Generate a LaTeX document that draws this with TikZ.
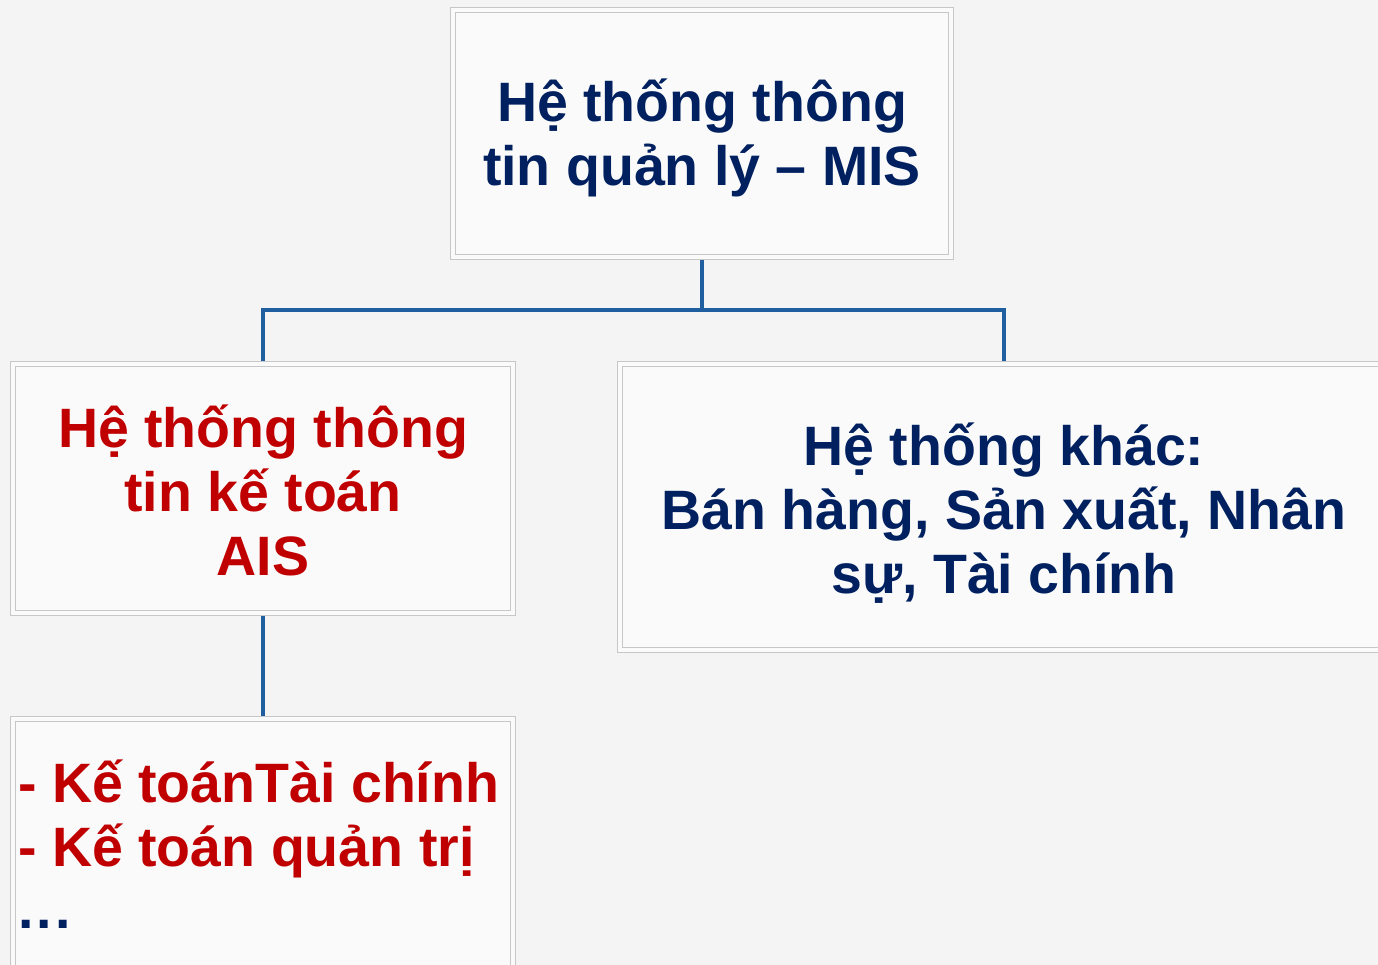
\documentclass[tikz,border=0pt]{standalone}
\usepackage{fontspec}
\setmainfont{Liberation Sans}
\begin{document}
\begin{tikzpicture}[x=1pt,y=-1pt,
  box/.style={draw=black!22, double=white!98!black, double distance=4pt, line width=1pt,
    fill=white!98!black, rectangle, inner sep=0pt, outer sep=0pt},
  conn/.style={draw=linkblue, line width=4pt},
  txt/.style={inner sep=0pt, font=\fontsize{55.5}{64}\selectfont\bfseries},
  navytxt/.style={txt, text=navy},
  redtxt/.style={txt, text=darkred}]
\definecolor{navy}{HTML}{002060}
\definecolor{darkred}{HTML}{C00000}
\definecolor{linkblue}{HTML}{1F5F9F}
\definecolor{bg}{HTML}{F4F4F4}
\useasboundingbox (0,0) rectangle (1378,965);
\clip (0,0) rectangle (1378,965);
\fill[bg] (0,0) rectangle (1378,965);
% boxes
\node[box, minimum width=498pt, minimum height=247pt] (mis) at (702,133.5) {};
\node[box, minimum width=500pt, minimum height=249pt] (ais) at (263,488.5) {};
\node[box, minimum width=768pt, minimum height=286pt] (other) at (1004,507) {};
\node[box, minimum width=500pt, minimum height=271pt] (sub) at (263,854.5) {};
\coordinate (junction) at (702,310);
% connectors
\draw[conn, shorten <=3pt] (mis.south) -- (junction);
\draw[conn, shorten >=3pt] (junction) -| (ais.north);
\draw[conn, shorten >=3pt] (junction) -| (other.north);
\draw[conn, shorten <=3pt, shorten >=3pt] (ais.south) -- (sub.north);
% texts
\node[navytxt, anchor=base] (t1) at (702,122) {Hệ thống thông};
\node[navytxt, anchor=base] (t2) at (702,186) {tin quản lý – MIS};
\node[redtxt, anchor=base] (a1) at (263,447) {Hệ thống thông};
\node[redtxt, anchor=base] (a2) at (263,511) {tin kế toán};
\node[redtxt, anchor=base] (a3) at (263,575) {AIS};
\node[navytxt, anchor=base] (o1) at (1004,465) {Hệ thống khác:};
\node[navytxt, anchor=base] (o2) at (1004,529) {Bán hàng, Sản xuất, Nhân};
\node[navytxt, anchor=base] (o3) at (1004,593) {sự, Tài chính};
\node[redtxt, anchor=base west] (s1) at (18,802) {- Kế toánTài chính};
\node[redtxt, anchor=base west] (s2) at (18,866) {- Kế toán quản trị};
\node[navytxt, anchor=base west] (s3) at (18,928) {.\kern3pt.\kern3pt.};
\end{tikzpicture}
\end{document}
